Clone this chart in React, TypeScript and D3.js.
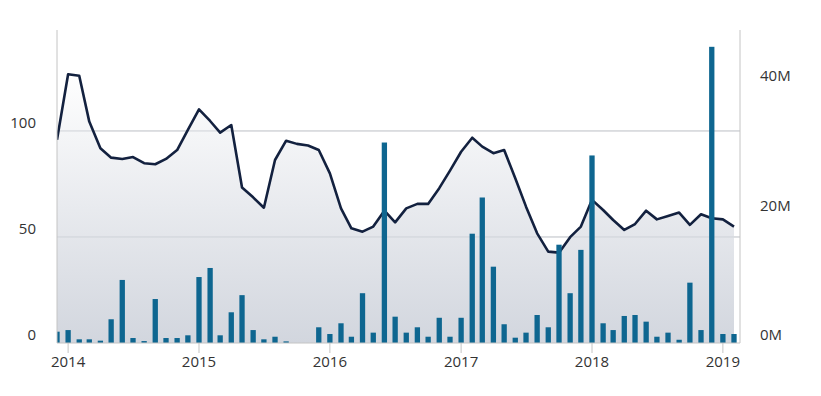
import React from 'react';
import * as d3 from 'd3';

// monthly points, Dec 2013 .. Feb 2019
const startMonth = new Date(2013, 11, 1);
const endMonth = new Date(2019, 1, 1);
const months = d3.timeMonth.range(startMonth, d3.timeMonth.offset(endMonth, 1));

// line series (left axis)
const priceValues = [
  95.8, 126.7, 126, 104.4, 91.8, 87.4, 86.8, 87.7, 84.8, 84.3, 86.8, 91, 100.5,
  110.2, 104.7, 99.2, 102.8, 73.3, 68.7, 63.8, 86.3, 95.4, 93.9, 93.1, 91, 80,
  63.5, 54.1, 52.5, 54.9, 62.4, 56.9, 63.5, 65.6, 65.6, 73, 81.3, 90.2,
  96.8, 92.6, 89.5, 91, 77.7, 64.3, 51.7, 43.1, 42.6, 49.9, 54.9, 67.5,
  62.7, 58, 53.3, 56.1, 62.4, 58.3, 59.9, 61.5, 55.7, 60.7, 58.8, 58.3, 54.9,
];

// bar series in millions (right axis)
const volumeValues = [
  1.75, 2.0, 0.57, 0.57, 0.36, 3.67, 9.75, 0.77, 0.3, 6.8, 0.77, 0.77, 1.19,
  10.2, 11.6, 1.19, 4.75, 7.4, 2.0, 0.57, 0.97, 0.25, 0, 0, 2.43, 1.39,
  3.05, 0.97, 7.7, 1.6, 31.0, 4.07, 1.6, 2.43, 0.97, 3.9, 0.97, 3.9,
  16.9, 22.5, 11.8, 2.9, 0.82, 1.6, 4.33, 2.43, 15.2, 7.7, 14.4, 29.0,
  3.05, 2.0, 4.18, 4.33, 3.3, 0.97, 1.6, 0.5, 9.33, 2.0, 45.8, 1.39, 1.39,
];

const leftTicks = [0, 50, 100];
const rightTicks = [0, 20, 40];
const yearTicks = [2014, 2015, 2016, 2017, 2018, 2019];

const W = 821;
const H = 396;
const plot = { left: 57, right: 740, top: 30, bottom: 343 };
const font = '"Open Sans", sans-serif';

export default function App() {
  const x = d3.scaleTime().domain([startMonth, endMonth]).range([plot.left, 734]);
  const yL = d3.scaleLinear().domain([0, 147.6]).range([plot.bottom, plot.top]);
  const yR = d3.scaleLinear().domain([0, 48.4]).range([plot.bottom, plot.top]);

  const pts = months.map((m, i) => ({ m, v: priceValues[i], b: volumeValues[i] }));

  const line = d3.line<typeof pts[0]>().x((d) => x(d.m)).y((d) => yL(d.v));
  const area = d3
    .area<typeof pts[0]>()
    .x((d) => x(d.m))
    .y0(plot.bottom)
    .y1((d) => yL(d.v));

  const barW = 5.3;

  return (
    <svg width={W} height={H} style={{ position: 'absolute', left: 0, top: 0, background: '#fff' }}>
      <defs>
        <linearGradient id="areaGrad" gradientUnits="userSpaceOnUse" x1="0" y1={plot.top + 40} x2="0" y2={plot.bottom}>
          <stop offset="0" stopColor="#ffffff" />
          <stop offset="1" stopColor="#d2d6de" />
        </linearGradient>
        <clipPath id="plotClip">
          <rect x={plot.left} y={plot.top} width={plot.right - plot.left} height={plot.bottom - plot.top} />
        </clipPath>
      </defs>

      {/* gridlines */}
      {leftTicks.slice(1).map((t) => (
        <line key={t} x1={plot.left} x2={plot.right} y1={yL(t)} y2={yL(t)} stroke="#d8d8d8" strokeWidth={1} />
      ))}

      <g clipPath="url(#plotClip)">
        <path d={area(pts) ?? ''} fill="url(#areaGrad)" />
        {leftTicks.slice(1).map((t) => (
          <line key={'g' + t} x1={plot.left} x2={plot.right} y1={yL(t)} y2={yL(t)} stroke="#cfd2d8" strokeWidth={1} />
        ))}
        <path d={line(pts) ?? ''} fill="none" stroke="#13213f" strokeWidth={2.6} strokeLinejoin="round" />
        {pts.map((d, i) => (
          <rect
            key={i}
            x={x(d.m) - barW / 2}
            y={yR(d.b)}
            width={barW}
            height={plot.bottom - yR(d.b)}
            fill="#0e6690"
          />
        ))}
      </g>

      {/* axes lines */}
      <line x1={plot.left} x2={plot.left} y1={plot.top} y2={plot.bottom} stroke="#c4c4c4" />
      <line x1={plot.right} x2={plot.right} y1={plot.top} y2={plot.bottom} stroke="#c4c4c4" />
      <line x1={plot.left} x2={plot.right} y1={plot.bottom} y2={plot.bottom} stroke="#c4c4c4" />

      {/* x ticks */}
      {yearTicks.map((yr) => {
        const xp = x(new Date(yr, 0, 1));
        return (
          <g key={yr}>
            <line x1={xp} x2={xp} y1={plot.bottom} y2={plot.bottom + 10} stroke="#c4c4c4" />
            <text x={xp} y={367} textAnchor="middle" fontFamily={font} fontSize={15} fill="#333">
              {yr}
            </text>
          </g>
        );
      })}

      {/* left labels */}
      {leftTicks.map((t) => (
        <text key={t} x={36} y={yL(t) - 3} textAnchor="end" fontFamily={font} fontSize={15} fill="#333">
          {t}
        </text>
      ))}

      {/* right labels */}
      {rightTicks.map((t) => (
        <text key={t} x={760} y={yR(t) - 3} textAnchor="start" fontFamily={font} fontSize={15} fill="#333">
          {t}M
        </text>
      ))}
    </svg>
  );
}
